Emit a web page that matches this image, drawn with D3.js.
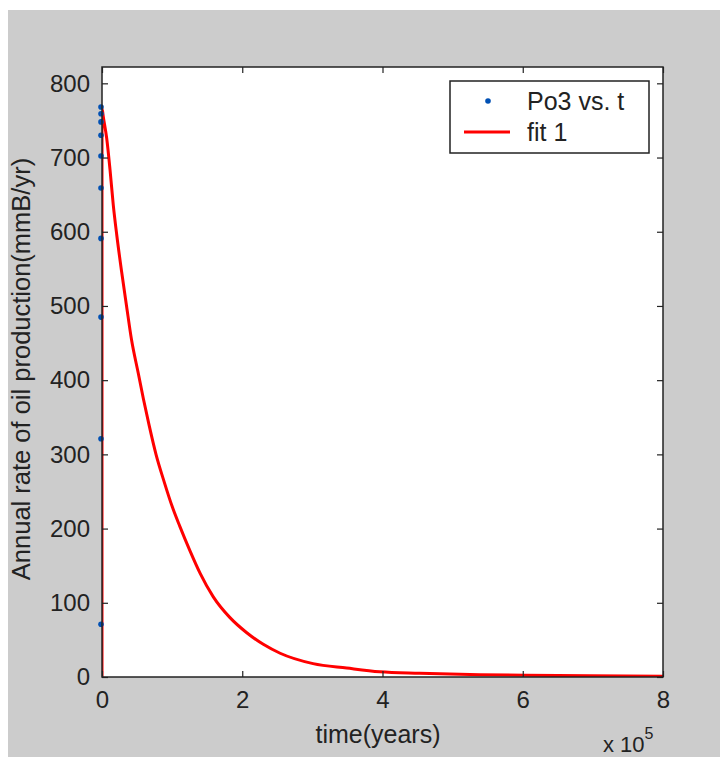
<!DOCTYPE html>
<html>
<head>
<meta charset="utf-8">
<script src="https://cdn.jsdelivr.net/npm/d3@7"></script>
<style>
  body { margin: 0; background: #ffffff; }
  svg text { font-family: "Liberation Sans", Arial, sans-serif; fill: #222; }
</style>
</head>
<body>
<div id="chart"></div>
<script>
// Data points (Po3 vs. t), t in years
var pointT = [1, 2, 3, 4, 5, 6, 7, 8, 9, 10];
var pointV = [768, 759, 748, 730, 702, 659, 591, 485, 321, 71];

// Fitted curve
var fitT = [0, 0, 2000, 6700, 11400, 16100, 21000, 28000, 35000, 42000, 51800, 59000,
            67000, 77000, 89000, 100000, 111000, 125500, 139800, 158700, 182500,
            206000, 230000, 254000, 301000, 349000, 396000, 453000, 539000, 650000, 800000];
var fitV = [0, 766, 754, 726, 684, 636, 596, 546, 500, 455, 409, 375,
            340, 300, 262, 230, 203, 170, 140, 108, 80,
            60, 44, 32, 18, 12, 7, 5, 3, 2, 1];

var xTicks = [0, 200000, 400000, 600000, 800000];
var yTicks = [0, 100, 200, 300, 400, 500, 600, 700, 800];

var W = 720, H = 757;
var margin = {top: 67, right: 57, bottom: 80, left: 102},
    width = W - margin.left - margin.right,
    height = H - margin.top - margin.bottom;

var svg = d3.select("#chart")
  .append("svg")
    .attr("width", W)
    .attr("height", H);

// Grey figure background
svg.append("rect")
  .attr("x", 8).attr("y", 10)
  .attr("width", W - 8).attr("height", H - 10)
  .attr("fill", "#cccccc");

var g = svg.append("g")
  .attr("transform", "translate(" + margin.left + "," + margin.top + ")");

// White axes area
g.append("rect")
  .attr("width", width).attr("height", height)
  .attr("fill", "#ffffff");

var x = d3.scaleLinear().domain([0, 800000]).range([0, width]);
var y = d3.scaleLinear().domain([0, 822]).range([height, 0]);

g.append("clipPath").attr("id", "clip")
  .append("rect").attr("width", width).attr("height", height);

// Fit line
var fitData = fitT.map(function(t, i) { return {t: t, v: fitV[i]}; });
g.append("path")
  .datum(fitData)
  .attr("clip-path", "url(#clip)")
  .attr("fill", "none")
  .attr("stroke", "#ff0000")
  .attr("stroke-width", 3)
  .attr("d", d3.line()
    .x(function(d) { return x(d.t); })
    .y(function(d) { return y(d.v); })
    .curve(d3.curveMonotoneX)
  );

// Data points
g.selectAll(".dot")
  .data(pointT.map(function(t, i) { return {t: t, v: pointV[i]}; }))
  .enter()
  .append("circle")
    .attr("class", "dot")
    .attr("cx", function(d) { return x(d.t) - 1; })
    .attr("cy", function(d) { return y(d.v); })
    .attr("r", 2.8)
    .attr("fill", "#0050b4");

// Axes with inward ticks, mirrored on top and right
function styleAxis(sel) {
  sel.select(".domain").remove();
  sel.selectAll(".tick line").attr("stroke", "#222").attr("stroke-width", 1.2);
  sel.selectAll(".tick text").style("font-size", "24px");
}

g.append("g")
  .attr("transform", "translate(0," + height + ")")
  .call(d3.axisBottom(x).tickValues(xTicks).tickSizeInner(-6).tickPadding(14)
    .tickFormat(function(d) { return d / 100000; }))
  .call(styleAxis);

g.append("g")
  .call(d3.axisTop(x).tickValues(xTicks).tickSizeInner(-6).tickFormat(""))
  .call(styleAxis);

g.append("g")
  .call(d3.axisLeft(y).tickValues(yTicks).tickSizeInner(-6).tickPadding(12))
  .call(styleAxis);

g.append("g")
  .attr("transform", "translate(" + width + ",0)")
  .call(d3.axisRight(y).tickValues(yTicks).tickSizeInner(-6).tickFormat(""))
  .call(styleAxis);

// Axes box
g.append("rect")
  .attr("width", width).attr("height", height)
  .attr("fill", "none")
  .attr("stroke", "#222")
  .attr("stroke-width", 1.5);

// Exponent label
var expo = svg.append("text")
  .attr("x", 603).attr("y", 752)
  .style("font-size", "22px");
expo.append("tspan").text("x 10");
expo.append("tspan").attr("dy", -13).style("font-size", "16px").text("5");

// Axis labels
svg.append("text")
  .attr("x", 378)
  .attr("y", 743)
  .attr("text-anchor", "middle")
  .style("font-size", "25px")
  .text("time(years)");

svg.append("text")
  .attr("transform", "translate(30,369) rotate(-90)")
  .attr("text-anchor", "middle")
  .style("font-size", "25.5px")
  .text("Annual rate of oil production(mmB/yr)");

// Legend
var legend = svg.append("g").attr("transform", "translate(450,81)");
legend.append("rect")
  .attr("width", 199).attr("height", 72)
  .attr("fill", "#ffffff")
  .attr("stroke", "#222")
  .attr("stroke-width", 1.5);
legend.append("circle")
  .attr("cx", 38).attr("cy", 20).attr("r", 2.8)
  .attr("fill", "#0050b4");
legend.append("text")
  .attr("x", 77).attr("y", 29)
  .style("font-size", "25px")
  .text("Po3 vs. t");
legend.append("line")
  .attr("x1", 14).attr("x2", 60)
  .attr("y1", 51).attr("y2", 51)
  .attr("stroke", "#ff0000")
  .attr("stroke-width", 3);
legend.append("text")
  .attr("x", 77).attr("y", 60)
  .style("font-size", "25px")
  .text("fit 1");
</script>
</body>
</html>
